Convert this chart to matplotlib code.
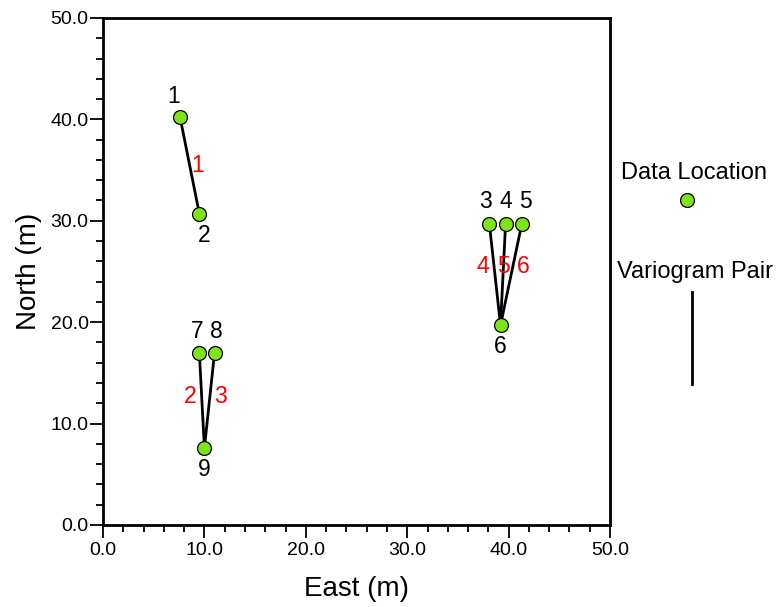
import numpy as np
import matplotlib
matplotlib.use('Agg')
import matplotlib.pyplot as plt
from matplotlib.lines import Line2D

plt.rcParams['font.family'] = ['Liberation Sans', 'DejaVu Sans']

# data locations
point_ids = ['1', '2', '3', '4', '5', '6', '7', '8', '9']
east = [7.6, 9.5, 38.1, 39.7, 41.3, 39.2, 9.5, 11.0, 10.0]
north = [40.2, 30.7, 29.7, 29.7, 29.7, 19.7, 17.0, 17.0, 7.6]

# variogram pairs (indices into the point lists)
pair_ids = ['1', '2', '3', '4', '5', '6']
pair_from = [0, 6, 7, 2, 3, 4]
pair_to = [1, 8, 8, 5, 5, 5]

tick_vals = np.arange(0, 51, 10)
tick_labels = ['%.1f' % v for v in tick_vals]

# label offsets in pixels
pt_off = [(-6, 21), (5, -22), (-4, 22), (0, 22), (4, 22), (0, -21), (-2, 21), (2, 21), (0, -22)]
pair_off = [(8, 0), (-12, 4), (11, 4), (-12, 8), (0, 8), (12, 8)]

green = '#7fe31a'

fig = plt.figure(figsize=(7.78, 6.07), dpi=100)
ax = fig.add_axes([0.1324, 0.1351, 0.6517, 0.8353])

for k in range(len(pair_ids)):
    i, j = pair_from[k], pair_to[k]
    ax.plot([east[i], east[j]], [north[i], north[j]], color='black', lw=2.0, zorder=2,
            solid_capstyle='butt')
    mx = (east[i] + east[j]) / 2
    my = (north[i] + north[j]) / 2
    ax.annotate(pair_ids[k], (mx, my), xytext=pair_off[k], textcoords='offset pixels',
                ha='center', va='center', color='red', fontsize=16.5)

ax.scatter(east, north, s=100, c=green, edgecolors='black', linewidths=0.9, zorder=3)
for k, lab in enumerate(point_ids):
    ax.annotate(lab, (east[k], north[k]), xytext=pt_off[k], textcoords='offset pixels',
                ha='center', va='center', color='black', fontsize=16.5)

ax.set_xlim(0, 50)
ax.set_ylim(0, 50)
ax.set_xticks(tick_vals)
ax.set_xticklabels(tick_labels)
ax.set_yticks(tick_vals)
ax.set_yticklabels(tick_labels)
ax.set_xticks(np.arange(0, 51, 2), minor=True)
ax.set_yticks(np.arange(0, 51, 2), minor=True)
ax.tick_params(which='major', direction='out', length=9.4, width=1.3, labelsize=14, pad=3)
ax.tick_params(which='minor', direction='out', length=5, width=1.3)
ax.tick_params(axis='y', pad=1)
for s in ax.spines.values():
    s.set_linewidth(2)

ax.set_xlabel('East (m)', fontsize=20, labelpad=12)
ax.set_ylabel('North (m)', fontsize=20, labelpad=6)

# legend outside the axes
fig.text(0.892, 0.715, 'Data Location', ha='center', va='center', fontsize=17)
fig.add_artist(Line2D([0.883], [0.670], marker='o', markersize=10, color=green,
                      markeredgecolor='black', markeredgewidth=0.9, transform=fig.transFigure))
fig.text(0.893, 0.552, 'Variogram Pair', ha='center', va='center', fontsize=17)
fig.add_artist(Line2D([0.889, 0.889], [0.519, 0.367], color='black', lw=2.0,
                      transform=fig.transFigure))

fig.savefig('out.png', dpi=100)
